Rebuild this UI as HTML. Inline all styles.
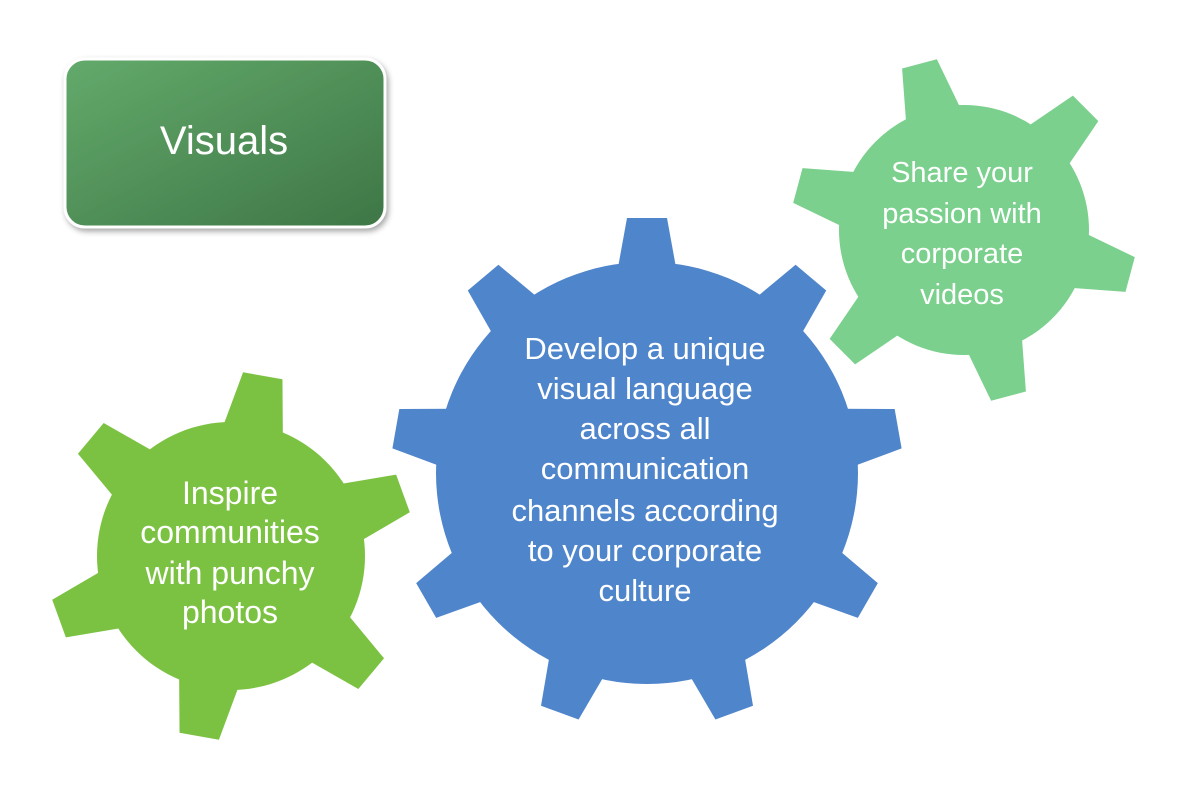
<!DOCTYPE html>
<html><head><meta charset="utf-8"><style>
html,body{margin:0;padding:0;background:#fff;}
svg{display:block;}
text{font-family:"Liberation Sans",sans-serif;fill:#fff;text-anchor:middle;}
</style></head><body>
<svg width="1200" height="800" viewBox="0 0 1200 800" xmlns="http://www.w3.org/2000/svg">
<defs>
<linearGradient id="bg" x1="0" y1="0" x2="1" y2="1">
<stop offset="0" stop-color="#63aa6b"/><stop offset="1" stop-color="#3e7646"/>
</linearGradient>
<filter id="sh" x="-10%" y="-10%" width="130%" height="130%">
<feDropShadow dx="2" dy="3" stdDeviation="3" flood-color="#000" flood-opacity="0.35"/>
</filter>
<polygon id="tb" points="-30,-200 -20,-255 20,-255 30,-200"/>
<polygon id="tg" points="-31,-123 -20,-183 20,-183 31,-123"/>
<polygon id="tl" points="-29,-114 -18,-172 18,-172 29,-114"/>
</defs>

<rect x="65" y="59" width="320" height="168" rx="20" fill="url(#bg)" stroke="#fff" stroke-width="3" filter="url(#sh)"/>
<text x="224" y="154" font-size="40">Visuals</text>

<g fill="#4f85cb" transform="translate(647,473)">
<circle r="211"/>
<use href="#tb" transform="rotate(0)"/><use href="#tb" transform="rotate(40)"/><use href="#tb" transform="rotate(80)"/>
<use href="#tb" transform="rotate(120)"/><use href="#tb" transform="rotate(160)"/><use href="#tb" transform="rotate(200)"/>
<use href="#tb" transform="rotate(240)"/><use href="#tb" transform="rotate(280)"/><use href="#tb" transform="rotate(320)"/>
</g>

<g fill="#7cc242" transform="translate(231,556)">
<circle r="134"/>
<use href="#tg" transform="rotate(10)"/><use href="#tg" transform="rotate(70)"/><use href="#tg" transform="rotate(130)"/>
<use href="#tg" transform="rotate(190)"/><use href="#tg" transform="rotate(250)"/><use href="#tg" transform="rotate(310)"/>
</g>

<g fill="#7ad08c" transform="translate(964,230)">
<circle r="125"/>
<use href="#tl" transform="rotate(-15)"/><use href="#tl" transform="rotate(45)"/><use href="#tl" transform="rotate(105)"/>
<use href="#tl" transform="rotate(165)"/><use href="#tl" transform="rotate(225)"/><use href="#tl" transform="rotate(285)"/>
</g>

<g font-size="31">
<text x="645" y="359">Develop a unique</text>
<text x="645" y="399">visual language</text>
<text x="645" y="439">across all</text>
<text x="645" y="479">communication</text>
<text x="645" y="521">channels according</text>
<text x="645" y="561">to your corporate</text>
<text x="645" y="601">culture</text>
</g>
<g font-size="32">
<text x="230" y="504">Inspire</text>
<text x="230" y="543">communities</text>
<text x="230" y="584">with punchy</text>
<text x="230" y="623">photos</text>
</g>
<g font-size="29">
<text x="962" y="182">Share your</text>
<text x="962" y="223">passion with</text>
<text x="962" y="263">corporate</text>
<text x="962" y="304">videos</text>
</g>
</svg>
</body></html>
